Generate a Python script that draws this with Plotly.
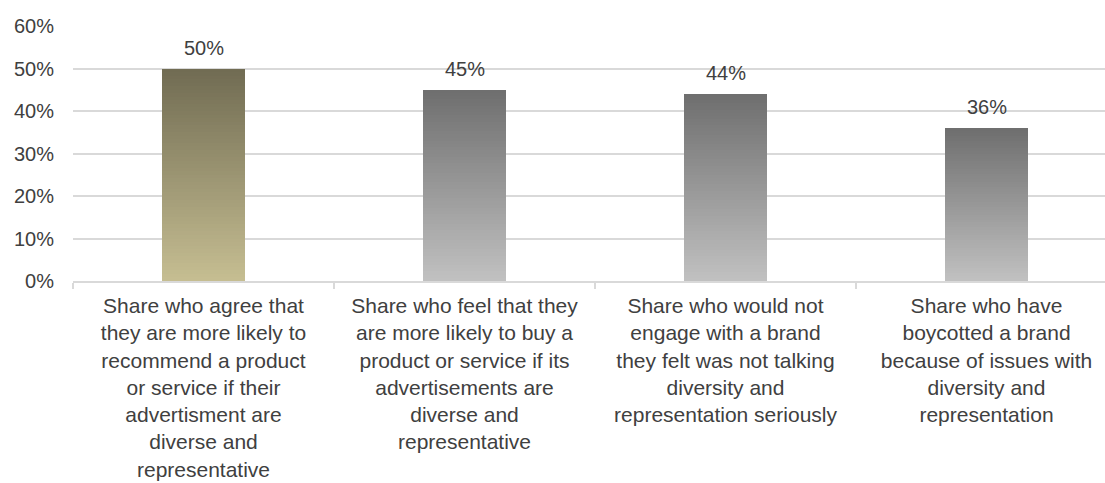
import plotly.graph_objects as go

# ---- data ----
categories = [
    "Share who agree that<br>they are more likely to<br>recommend a product<br>or service if their<br>advertisment are<br>diverse and<br>representative",
    "Share who feel that they<br>are more likely to buy a<br>product or service if its<br>advertisements are<br>diverse and<br>representative",
    "Share who would not<br>engage with a brand<br>they felt was not talking<br>diversity and<br>representation seriously",
    "Share who have<br>boycotted a brand<br>because of issues with<br>diversity and<br>representation",
]
values = [0.50, 0.45, 0.44, 0.36]
value_labels = ["50%", "45%", "44%", "36%"]
y_ticks = [0, 0.1, 0.2, 0.3, 0.4, 0.5, 0.6]

# ---- styles: gradient top/bottom colors per bar ----
top_colors = [(112, 107, 82), (110, 110, 110), (110, 110, 110), (110, 110, 110)]
bottom_colors = [(198, 190, 146), (193, 193, 193), (193, 193, 193), (193, 193, 193)]
N_SEG = 60
FONT = "Liberation Sans, Arial, sans-serif"
TXT = "#404040"
GRID = "#d9d9d9"

fig = go.Figure()

# gradient approximated by stacking thin slices of each bar (bottom -> top)
for i in range(N_SEG):
    t = (i + 0.5) / N_SEG  # 0 bottom, 1 top
    cols = []
    for tc, bc in zip(top_colors, bottom_colors):
        c = tuple(round(bc[k] + (tc[k] - bc[k]) * t) for k in range(3))
        cols.append("rgb(%d,%d,%d)" % c)
    fig.add_trace(go.Bar(
        x=categories,
        y=[v / N_SEG for v in values],
        marker=dict(color=cols, line=dict(width=0)),
        width=0.318,
        showlegend=False,
        hoverinfo="skip",
    ))

# value labels
for cat, v, lab in zip(categories, values, value_labels):
    fig.add_annotation(
        x=cat, y=v, text=lab, showarrow=False,
        yanchor="middle", yshift=21,
        font=dict(family=FONT, size=20, color=TXT),
    )

fig.update_layout(
    width=1105, height=483,
    margin=dict(l=73, r=0, t=26, b=202, autoexpand=False),
    barmode="stack", bargap=0,
    plot_bgcolor="white", paper_bgcolor="white",
    font=dict(family=FONT, color=TXT),
    xaxis=dict(
        type="category",
        range=[-0.5, 3.454],
        automargin=False,
        showgrid=False,
        tickson="boundaries",
        ticks="outside", ticklen=6, tickcolor=GRID, tickwidth=1.5,
        showline=True, linecolor=GRID, linewidth=1.5,
        tickfont=dict(family=FONT, size=21, color=TXT),
        ticklabelstandoff=5,
    ),
    yaxis=dict(
        range=[0, 0.6],
        automargin=False,
        tickvals=y_ticks,
        tickformat=".0%",
        showgrid=True, gridcolor=GRID, gridwidth=1.5,
        zeroline=False,
        showline=False,
        tickfont=dict(family=FONT, size=20, color=TXT),
        ticklabelstandoff=18,
    ),
)

fig.write_html("out.html")
